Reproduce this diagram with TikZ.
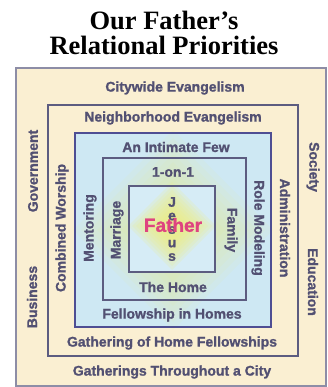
\documentclass[tikz,border=0pt]{standalone}
\usepackage{fontspec}
\setmainfont{Liberation Serif}
\newfontfamily\labfont{Liberation Sans}[BoldFeatures={FakeBold=1.2}]
\usetikzlibrary{shadows}
\definecolor{cream}{RGB}{250,239,210}
\definecolor{sky}{RGB}{206,232,243}
\definecolor{skyin}{RGB}{214,236,246}
\definecolor{ink}{RGB}{82,80,114}
\definecolor{edge}{RGB}{92,92,128}
\definecolor{rose}{RGB}{222,68,128}
\definecolor{glow}{RGB}{240,240,120}
\begin{document}
\begin{tikzpicture}[x=1pt, y=-1pt,
                    box/.style = {draw=edge, line width=1.4pt, drop shadow={shadow xshift=1.2pt, shadow yshift=-1.2pt, opacity=.35}},
                    main/.style = {text=ink, inner sep=0pt, font=\labfont\bfseries\fontsize{14}{14}\selectfont}]
                    \useasboundingbox (0,0) rectangle (328,387);
                    % Titolo
                    \node[anchor=base, font=\bfseries\fontsize{26.5}{26.5}\selectfont] (0) at (164,30) {Our Father’s};
                    \node[anchor=base, font=\bfseries\fontsize{26.5}{26.5}\selectfont] (1) at (164,55) {Relational Priorities};

                    % Riquadri e luce
                    \draw[box, draw=edge!70, fill=cream] (16,68) rectangle (326,386);
                    \draw[box, fill=cream] (48,105) rectangle (298,356);
                    \draw[box, draw=edge!85!blue, fill=sky] (75,133) rectangle (271,327);
                    \draw[box, fill=sky] (103,158) rectangle (246,300);
                    \foreach \r in {100,92,...,36}
                        \fill[glow, opacity=.07] (173,230) +(0,-\r) -- +(\r,0) -- +(0,\r) -- +(-\r,0) -- cycle;
                    \draw[box, fill=skyin] (129,186) rectangle (215,272);
                    \foreach \r in {44,40,...,16}
                        \fill[glow, opacity=.17] (172,226) +(0,-\r) -- +(\r,0) -- +(0,\r) -- +(-\r,0) -- cycle;
                    \draw[edge!85!blue, line width=1.4pt] (75,133) rectangle (271,327);
                    \draw[edge, line width=1.4pt] (103,158) rectangle (246,300);
                    \draw[edge, line width=1.4pt] (129,186) rectangle (215,272);

                    % Testi
                    \node[main] (2) at (175,88) {Citywide Evangelism};
                    \node[main] (3) at (173,118) {Neighborhood Evangelism};
                    \node[main] (4) at (176,147) {An Intimate Few};
                    \node[main] (5) at (173,172) {1-on-1};
                    \node[main] (6) at (173,287) {The Home};
                    \node[main] (7) at (172,315) {Fellowship in Homes};
                    \node[main] (8) at (172,343) {Gathering of Home Fellowships};
                    \node[main] (9) at (172,372) {Gatherings Throughout a City};
                    \node[main, rotate=90] (10) at (33,171) {Government};
                    \node[main, rotate=90] (11) at (32,297) {Business};
                    \node[main, rotate=90] (12) at (62,228) {Combined Worship};
                    \node[main, rotate=90] (13) at (90,228) {Mentoring};
                    \node[main, rotate=90] (14) at (117,230) {Marriage};
                    \node[main, rotate=-90] (15) at (231,230) {Family};
                    \node[main, rotate=-90] (16) at (258,228) {Role Modeling};
                    \node[main, rotate=-90] (17) at (285,228) {Administration};
                    \node[main, rotate=-90] (18) at (313,167) {Society};
                    \node[main, rotate=-90] (19) at (313,282) {Education};
                    \node[main, align=center, font=\labfont\bfseries\fontsize{14}{13.5}\selectfont] (20) at (172,229) {J\\e\\s\\u\\s};
                    \node[main, text=rose, font=\labfont\bfseries\fontsize{19}{19}\selectfont] (21) at (173,225) {Father};
                \end{tikzpicture}
\end{document}
